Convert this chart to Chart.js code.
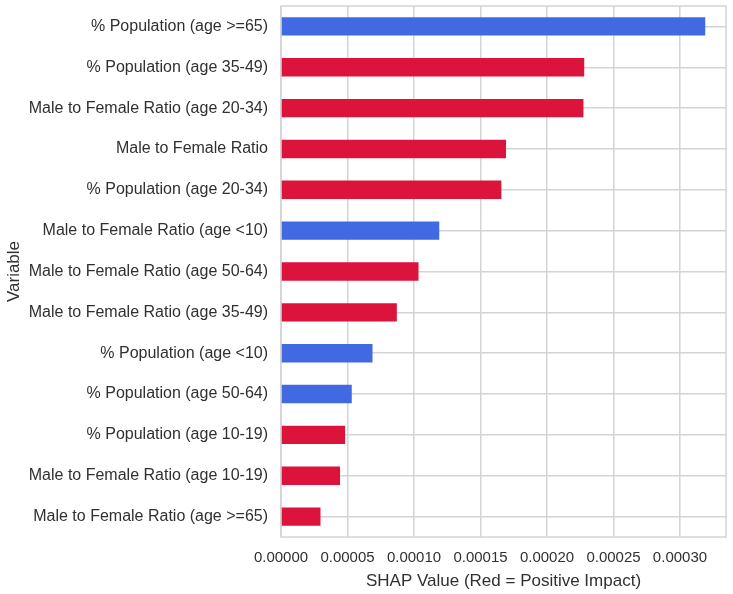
<!DOCTYPE html>
<html><head><meta charset="utf-8">
<script src="https://cdn.jsdelivr.net/npm/chart.js@4"></script>
<style>html,body{margin:0;padding:0;background:#fff}#wrap{width:733px;height:594px}</style>
</head><body><div id="wrap"><canvas id="c" width="733" height="594"></canvas></div>
<script>
const categories = [
  "% Population (age >=65)",
  "% Population (age 35-49)",
  "Male to Female Ratio (age 20-34)",
  "Male to Female Ratio",
  "% Population (age 20-34)",
  "Male to Female Ratio (age <10)",
  "Male to Female Ratio (age 50-64)",
  "Male to Female Ratio (age 35-49)",
  "% Population (age <10)",
  "% Population (age 50-64)",
  "% Population (age 10-19)",
  "Male to Female Ratio (age 10-19)",
  "Male to Female Ratio (age >=65)"
];
const shapValues = [0.000319, 0.000228, 0.0002274, 0.0001692, 0.0001657, 0.000119, 0.0001034, 0.0000871, 0.0000688, 0.0000532, 0.0000482, 0.0000444, 0.0000297];
const impactSign = ["neg","pos","pos","pos","pos","neg","pos","pos","neg","neg","pos","pos","pos"];
const xTicks = [0, 0.00005, 0.00010, 0.00015, 0.00020, 0.00025, 0.00030];
const xMax = 0.0003346;

const RED = "#DC143C", BLUE = "#4169E1";
const FONT = "'Liberation Sans', Arial, sans-serif";
const TXT = "#303030";

const frame = {
  id: "frame",
  beforeDatasetsDraw(chart) {
    const a = chart.chartArea, ctx = chart.ctx;
    ctx.save();
    ctx.strokeStyle = "#d4d4d4";
    ctx.lineWidth = 1.5;
    ctx.strokeRect(a.left, a.top, a.right - a.left, a.bottom - a.top);
    ctx.restore();
  }
};

new Chart(document.getElementById("c"), {
  type: "bar",
  data: {
    labels: categories,
    datasets: [{
      data: shapValues,
      backgroundColor: impactSign.map(s => s === "pos" ? RED : BLUE),
      borderWidth: 0,
      barPercentage: 0.45,
      categoryPercentage: 1
    }]
  },
  options: {
    indexAxis: "y",
    responsive: false,
    animation: false,
    devicePixelRatio: 1,
    layout: { padding: { top: 6, right: 7, left: 0, bottom: 0 } },
    plugins: { legend: { display: false }, tooltip: { enabled: false } },
    scales: {
      x: {
        min: 0, max: xMax,
        afterBuildTicks: s => { s.ticks = xTicks.map(v => ({ value: v })); },
        afterFit: s => { s.height = 594 - 537; s.paddingLeft = 0; s.paddingRight = 0; },
        ticks: {
          callback: v => Number(v).toFixed(5),
          font: { family: FONT, size: 15 }, color: TXT, padding: 12,
          maxRotation: 0, autoSkip: false
        },
        grid: { color: "#d4d4d4", lineWidth: 1.5, drawTicks: false },
        border: { display: false },
        title: { display: true, text: "SHAP Value (Red = Positive Impact)", font: { family: FONT, size: 17 }, color: TXT, padding: { top: 0, bottom: 2 } }
      },
      y: {
        afterFit: s => { s.width = 281; s.paddingTop = 0; s.paddingBottom = 0; },
        ticks: { font: { family: FONT, size: 16 }, color: TXT, padding: 13, autoSkip: false },
        grid: { color: "#d4d4d4", lineWidth: 1.5, offset: false, drawTicks: false },
        border: { display: false },
        title: { display: true, text: "Variable", font: { family: FONT, size: 17 }, color: TXT, padding: { top: 4, bottom: 0 } }
      }
    }
  },
  plugins: [frame]
});
</script></body></html>
